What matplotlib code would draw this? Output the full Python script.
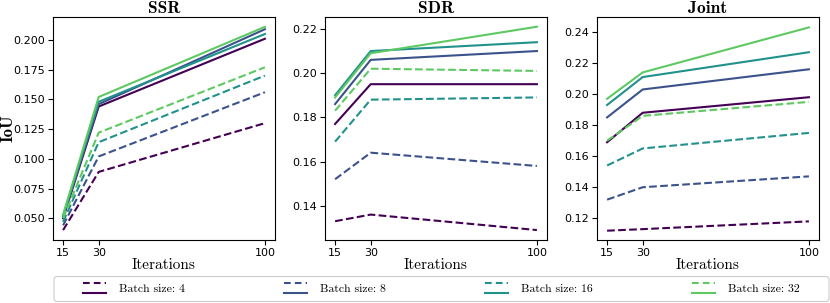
import matplotlib
matplotlib.use("Agg")
import matplotlib.pyplot as plt
from matplotlib.lines import Line2D
from matplotlib.legend_handler import HandlerBase
from matplotlib.patches import FancyBboxPatch
from matplotlib.transforms import IdentityTransform

iterations = [15, 30, 100]
batch_sizes = [4, 8, 16, 32]
titles = ["SSR", "SDR", "Joint"]

# dashed series and solid series per batch size (4, 8, 16, 32)
ssr_dashed = [[0.040, 0.089, 0.130], [0.044, 0.102, 0.156], [0.047, 0.114, 0.170], [0.050, 0.122, 0.177]]
ssr_solid = [[0.050, 0.144, 0.201], [0.051, 0.146, 0.209], [0.052, 0.148, 0.205], [0.053, 0.152, 0.211]]
sdr_dashed = [[0.133, 0.136, 0.129], [0.152, 0.164, 0.158], [0.169, 0.188, 0.189], [0.183, 0.202, 0.201]]
sdr_solid = [[0.177, 0.195, 0.195], [0.186, 0.206, 0.210], [0.190, 0.210, 0.214], [0.189, 0.209, 0.221]]
joint_dashed = [[0.112, 0.113, 0.118], [0.132, 0.140, 0.147], [0.154, 0.165, 0.175], [0.170, 0.186, 0.195]]
joint_solid = [[0.169, 0.188, 0.198], [0.185, 0.203, 0.216], [0.193, 0.211, 0.227], [0.197, 0.214, 0.243]]

dashed_all = [ssr_dashed, sdr_dashed, joint_dashed]
solid_all = [ssr_solid, sdr_solid, joint_solid]

colors = plt.cm.viridis([0.0, 0.25, 0.5, 0.75])
serif = "cmr10"
serif_bold = "cmb10"


class StackedHandler(HandlerBase):
    # dashed line on top, solid line below
    def create_artists(self, legend, orig_handle, xdescent, ydescent, width, height, fontsize, trans):
        c = orig_handle[0].get_color()
        top = Line2D([0, width], [height * 0.5 + 3.3, height * 0.5 + 3.3], color=c, linestyle="--", lw=1.5,
                     dashes=(3.2, 2.0), transform=trans)
        bot = Line2D([0, width], [height * 0.5 - 3.3, height * 0.5 - 3.3], color=c, linestyle="-", lw=1.5,
                     transform=trans)
        return [top, bot]


fig = plt.figure(figsize=(8.3, 3.03), dpi=100)
lefts = [53, 325, 597]
axes = []
for i in range(3):
    ax = fig.add_axes([lefts[i] / 830, 63 / 303, 222 / 830, 223 / 303])
    axes.append(ax)

handles = []
for i, ax in enumerate(axes):
    for j in range(4):
        ld, = ax.plot(iterations, dashed_all[i][j], color=colors[j], linestyle="--", lw=1.5)
        ls, = ax.plot(iterations, solid_all[i][j], color=colors[j], linestyle="-", lw=1.5)
        if i == 0:
            handles.append((ld, ls))
    ax.set_xticks(iterations)
    ax.set_title(titles[i], fontfamily=serif_bold, fontsize=12.5, pad=3)
    ax.set_xlabel("Iterations", fontfamily=serif, fontsize=11, labelpad=0)
    ax.tick_params(labelsize=8, length=3.5, pad=2.5)

axes[0].set_ylabel("IoU", fontfamily=serif_bold, fontsize=12)
axes[0].yaxis.set_label_coords(-0.17, 0.5)
axes[0].set_yticks([0.05, 0.075, 0.1, 0.125, 0.15, 0.175, 0.2])
axes[0].set_ylim(0.0317, 0.2193)
axes[1].set_yticks([0.14, 0.16, 0.18, 0.2, 0.22])
axes[1].set_ylim(0.1245, 0.2254)
axes[2].set_yticks([0.12, 0.14, 0.16, 0.18, 0.2, 0.22, 0.24])
axes[2].set_ylim(0.106, 0.2497)

labels = ["Batch size: " + str(b) for b in batch_sizes]
fig.legend(handles, labels, handler_map={tuple: StackedHandler()}, loc="center",
           bbox_to_anchor=(441 / 830, 14 / 303), ncol=4, prop={"family": serif, "size": 8.5},
           handlelength=1.95, handletextpad=1.1, columnspacing=8.4, frameon=False)

frame = FancyBboxPatch((54, 1.5), 775, 25, boxstyle="round,pad=0,rounding_size=3",
                       transform=IdentityTransform(), facecolor="white", edgecolor="#cccccc", lw=0.8, zorder=0)
fig.patches.append(frame)

fig.savefig("out.png", dpi=100)
